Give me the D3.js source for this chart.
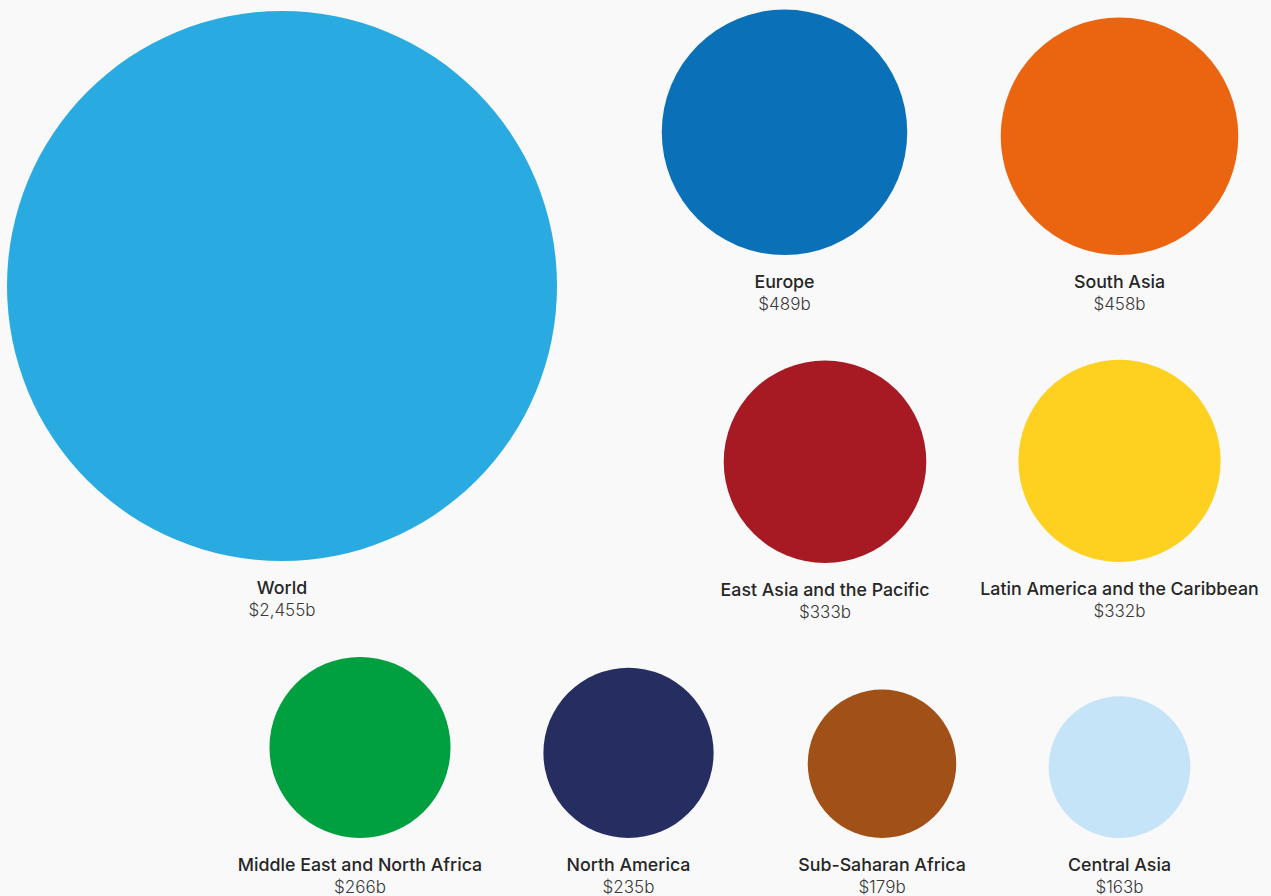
<!DOCTYPE html>
<html><head><meta charset="utf-8">
<script src="https://cdn.jsdelivr.net/npm/d3@7"></script>
<style>
html,body{margin:0;padding:0;background:#f9f9f9;}
svg{display:block;}
</style></head>
<body><svg id="c" width="1271" height="896"></svg>
<script>
const regions = ["World","Europe","South Asia","East Asia and the Pacific","Latin America and the Caribbean","Middle East and North Africa","North America","Sub-Saharan Africa","Central Asia"];
const values = [2455,489,458,333,332,266,235,179,163];
const colors = ["#29abe2","#0a71b8","#eb6510","#a71923","#fed020","#009f3f","#262e61","#a15117","#c6e4f8"];

// layout: center x and bottom line of each circle
const layoutX = [282,784.5,1119.5,825,1119.5,360,628.5,882,1119.5];
const layoutBottom = [561,255,255,563,562,838,838,838,838];

const svg = d3.select("#c");
const r = d3.scaleSqrt().domain([0,2455]).range([0,275]);
const fmt = v => "$" + d3.format(",")(v) + "b";

const g = svg.selectAll("g.node").data(regions).join("g").attr("class","node");
g.append("circle")
  .attr("cx",(d,i)=>layoutX[i])
  .attr("cy",(d,i)=>layoutBottom[i]-r(values[i]))
  .attr("r",(d,i)=>r(values[i]))
  .attr("fill",(d,i)=>colors[i]);
g.append("text")
  .attr("x",(d,i)=>layoutX[i])
  .attr("y",(d,i)=>layoutBottom[i]+32.5)
  .attr("text-anchor","middle")
  .attr("font-family","Inter, 'Liberation Sans', sans-serif")
  .attr("font-weight",500)
  .attr("font-size",17.8)
  .attr("fill","#262626")
  .text(d=>d);
g.append("text")
  .attr("x",(d,i)=>layoutX[i])
  .attr("y",(d,i)=>layoutBottom[i]+55)
  .attr("text-anchor","middle")
  .attr("font-family","Inter, 'Liberation Sans', sans-serif")
  .attr("font-weight",300)
  .attr("font-size",17)
  .attr("fill","#3a3a3a")
  .text((d,i)=>fmt(values[i]));
</script></body></html>
